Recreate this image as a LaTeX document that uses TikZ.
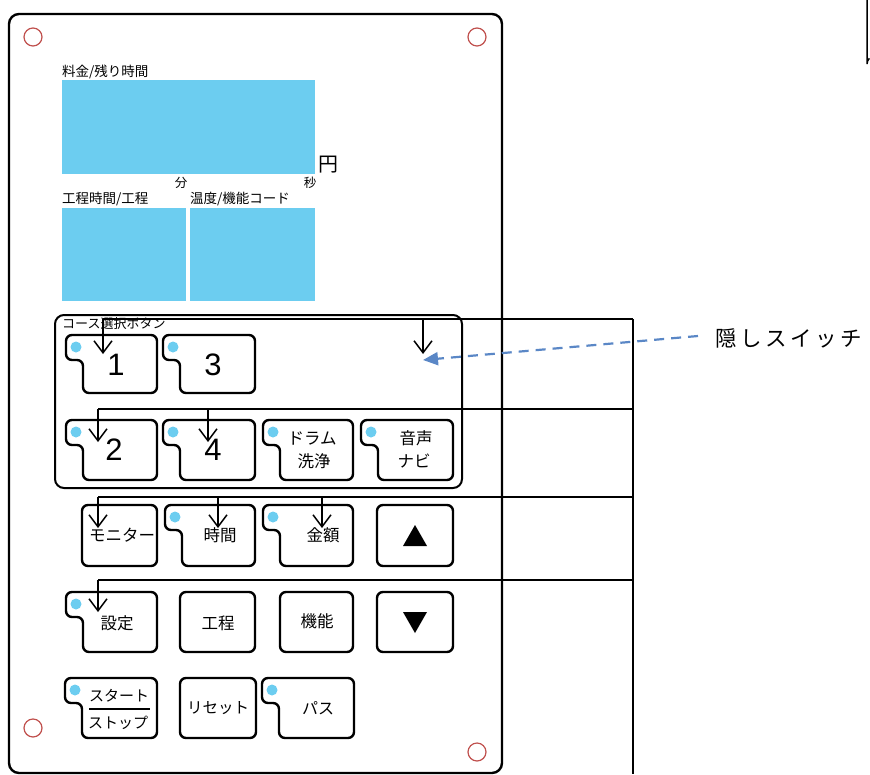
\documentclass[tikz,border=0pt]{standalone}
\usepackage{fontspec}
\setmainfont{Noto Sans CJK JP}
\newfontfamily\digitfont{Liberation Sans}
\usetikzlibrary{arrows.meta}
\definecolor{disp}{HTML}{6CCDF0}
\definecolor{hole}{HTML}{C0504D}
\definecolor{hint}{HTML}{5A87C6}
\newcommand{\nbtn}[4]{%
  \draw[btn] (#1+17,#4) -- (#1+17,#2+25) -- (#1,#2+25) -- (#1,#2) -- (#3,#2) -- (#3,#4) -- cycle;
  \fill[disp] (#1+10,#2+12) circle (5.5);}
\newcommand{\pbtn}[4]{%
  \draw[btn] (#1,#2) rectangle (#3,#4);}
\begin{document}
\begin{tikzpicture}[x=1pt,y=-1pt,
  btn/.style={line width=2.4pt,rounded corners=6pt},
  panel/.style={line width=2.4pt,rounded corners=10pt},
  wire/.style={line width=1.5pt},
  sw/.style={line width=1.5pt,-{Straight Barb[length=12pt,width=18pt,line width=1.5pt]}},
  hole/.style={draw=hole,line width=1.2pt},
  lab/.style={inner sep=0pt,font=\fontsize{13.5}{15}\selectfont},
  bt/.style={inner sep=0pt,font=\fontsize{16.5}{18}\selectfont},
  dig/.style={inner sep=0pt,font=\digitfont\fontsize{31}{33}\selectfont},
  hintarrow/.style={draw=hint,line width=2.2pt,dash pattern=on 10pt off 7pt,-{Triangle[length=15pt,width=13pt]},shorten >=0pt}]
\useasboundingbox (0,0) rectangle (870,774);
% panel
\draw[panel] (9,14) rectangle (502,773);
\draw[hole] (33,37) circle (9);
\draw[hole] (477,37) circle (9);
\draw[hole] (33,728) circle (9);
\draw[hole] (477,752) circle (9);
% partial box top right
\draw[line width=1.5pt] (867,0) -- (867,64) arc[start angle=180,end angle=225,radius=8];
% displays
\node[lab,anchor=west] (l1) at (62,72) {料金/残り時間};
\fill[disp] (62,80) rectangle (315,174);
\node[inner sep=0pt,font=\fontsize{20}{22}\selectfont] (yen) at (328,165) {円};
\node[lab,font=\fontsize{12.5}{14}\selectfont] (fun) at (181,183) {分};
\node[lab,font=\fontsize{12.5}{14}\selectfont] (byo) at (310,183) {秒};
\node[lab,anchor=west] (l2) at (62,199) {工程時間/工程};
\node[lab,anchor=west] (l3) at (190,199) {温度/機能コード};
\fill[disp] (62,208) rectangle (186,301);
\fill[disp] (190,208) rectangle (315,301);
% course group
\draw[line width=2pt,rounded corners=9pt] (55,315) rectangle (462,488);
\node[lab,anchor=west,font=\fontsize{13}{14}\selectfont] (l4) at (62,324) {コース選択ボタン};
% row 1
\nbtn{66}{335}{157}{393}
\node[dig] (k1) at (116,365) {1};
\nbtn{163}{335}{255}{393}
\node[dig] (k3) at (213,365) {3};
% row 2
\nbtn{66}{420}{157}{480}
\node[dig] (k2) at (114,450) {2};
\nbtn{163}{420}{255}{480}
\node[dig] (k4) at (213,450) {4};
\nbtn{263}{420}{353}{480}
\node[bt] (drum) at (312,438) {ドラム};
\node[bt] (sen) at (314,461) {洗浄};
\nbtn{361}{420}{453}{480}
\node[bt] (onsei) at (416,438) {音声};
\node[bt] (navi) at (414,461) {ナビ};
% row 3
\pbtn{82}{505}{157}{566}
\node[bt] (mon) at (122,535) {モニター};
\nbtn{165}{505}{255}{566}
\node[bt] (jikan) at (220,535) {時間};
\nbtn{263}{505}{353}{566}
\node[bt] (kingaku) at (323,535) {金額};
\pbtn{377}{505}{453}{566}
\fill (403,546) -- (427,546) -- (415,525) -- cycle;
% row 4
\nbtn{66}{592}{157}{652}
\node[bt] (settei) at (117,623) {設定};
\pbtn{180}{592}{255}{652}
\node[bt] (koutei) at (218,623) {工程};
\pbtn{280}{592}{353}{652}
\node[bt] (kinou) at (317,621) {機能};
\pbtn{377}{592}{453}{652}
\fill (403,612) -- (427,612) -- (415,633) -- cycle;
% row 5
\nbtn{65}{678}{157}{738}
\node[bt,font=\fontsize{15}{16}\selectfont] (start) at (119,696) {スタート};
\draw[line width=1.2pt] (89,709) -- (150,709);
\node[bt,font=\fontsize{15}{16}\selectfont] (stop) at (118,723) {ストップ};
\pbtn{180}{678}{256}{738}
\node[bt,font=\fontsize{15.5}{17}\selectfont] (reset) at (218,708) {リセット};
\nbtn{262}{678}{354}{738}
\node[bt,font=\fontsize{16}{17}\selectfont] (pass) at (318,708) {パス};
% hidden switch wiring
\coordinate (r1) at (633,319);
\coordinate (r2) at (633,409);
\coordinate (r3) at (633,497);
\coordinate (r4) at (633,580);
\coordinate (rb) at (633,774);
\coordinate (a1) at (103,319); \coordinate (e1) at (103,354);
\coordinate (a2) at (423,319); \coordinate (e2) at (423,354);
\coordinate (a3) at (98,409);  \coordinate (e3) at (98,442);
\coordinate (a4) at (208,409); \coordinate (e4) at (208,442);
\coordinate (a5) at (98,497);  \coordinate (e5) at (98,528);
\coordinate (a6) at (218,497); \coordinate (e6) at (218,528);
\coordinate (a7) at (322,497); \coordinate (e7) at (322,528);
\coordinate (a8) at (98,580);  \coordinate (e8) at (98,612);
\draw[wire] (r1) -- (rb);
\draw[wire] (a1) -- (r1);
\draw[wire] (a3) -- (r2);
\draw[wire] (a5) -- (r3);
\draw[wire] (a8) -- (r4);
\foreach \i in {1,...,8} { \draw[sw] (a\i) -- (e\i); }
% label and pointer
\node[inner sep=0pt,font=\fontsize{21.5}{24}\selectfont] (hidden) at (789,338) {隠\kern3.5pt し\kern3.5pt ス\kern3.5pt イ\kern3.5pt ッ\kern3.5pt チ};
\coordinate (hs) at (423,360);
\coordinate (hstart) at (698,336);
\draw[hintarrow] (hstart) -- (hs);
\end{tikzpicture}
\end{document}
